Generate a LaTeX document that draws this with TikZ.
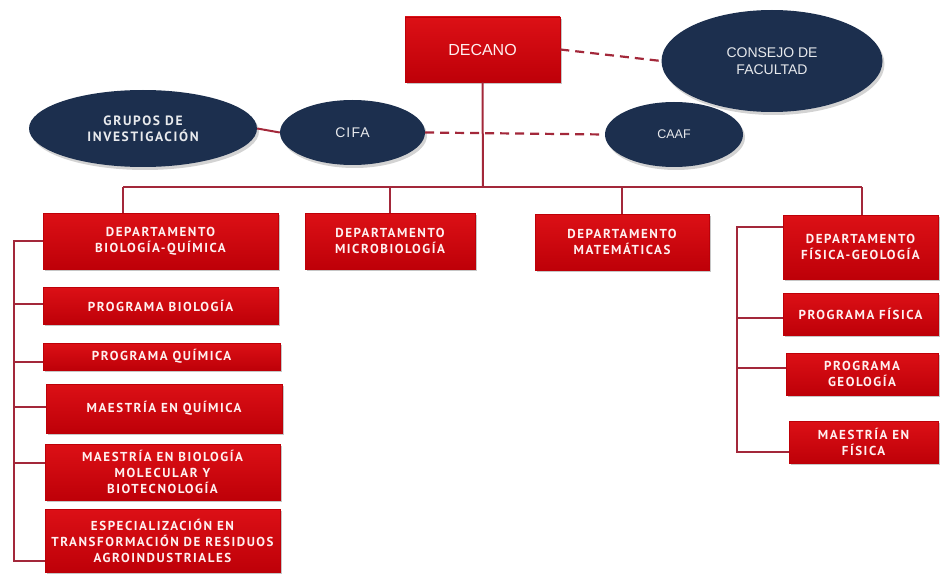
\documentclass[tikz,border=0pt]{standalone}
\usepackage{fontspec}
\setmainfont{Liberation Sans}
\newfontfamily\boxfont{PT Sans}[LetterSpace=12]
\newfontfamily\lightfont{Liberation Sans}
\newfontfamily\spacedfont{Liberation Sans}[LetterSpace=8]
\usetikzlibrary{shapes.geometric,shadows}
\definecolor{boxtop}{HTML}{DC1016}
\definecolor{boxbot}{HTML}{BE0008}
\definecolor{navy}{HTML}{1C2F4E}
\definecolor{linecol}{HTML}{A3283A}
\definecolor{txt}{HTML}{FFF0F0}
\tikzset{
  redbox/.style={rectangle, inner sep=1pt, top color=boxtop, bottom color=boxbot,
    draw=boxbot, line width=0.6pt, text=txt, align=center,
    font={\boxfont\bfseries\fontsize{13}{16}\selectfont},
    drop shadow={shadow xshift=2pt, shadow yshift=-2pt, opacity=0.45}},
  oval/.style={ellipse, inner sep=0pt, fill=navy, text=white!90!navy, align=center,
    drop shadow={shadow xshift=2pt, shadow yshift=-3pt, opacity=0.35}},
  conn/.style={draw=linecol, line width=2pt},
  dashconn/.style={draw=linecol, line width=2.2pt, dash pattern=on 9pt off 6pt}
}
\begin{document}
\begin{tikzpicture}[x=1pt,y=-1pt]
\useasboundingbox (0,0) rectangle (940,575);
% top level
\node[redbox, minimum width=155pt, minimum height=65pt,
  font={\lightfont\fontsize{16}{18}\selectfont}] (decano) at (482.5,49.5) {DECANO};
\node[oval, minimum width=221pt, minimum height=102pt,
  font={\lightfont\fontsize{14}{17}\selectfont}] (consejo) at (772,61) {CONSEJO DE\\FACULTAD};
\node[oval, minimum width=138pt, minimum height=65pt,
  font={\lightfont\fontsize{12.5}{14}\selectfont}] (caaf) at (674,134.5) {CAAF};
\node[oval, minimum width=228pt, minimum height=77pt,
  font={\boxfont\bfseries\fontsize{13.5}{16}\selectfont}] (grupos) at (143,128.5) {GRUPOS DE\\INVESTIGACIÓN};
\node[oval, minimum width=145pt, minimum height=65pt,
  font={\spacedfont\fontsize{14}{16}\selectfont}] (cifa) at (352.5,132.5) {CIFA};
% departments
\node[redbox, minimum width=235pt, minimum height=56pt] (dbq) at (160.5,241) {DEPARTAMENTO\\BIOLOGÍA-QUÍMICA};
\node[redbox, minimum width=170pt, minimum height=56pt] (dmic) at (390,241) {DEPARTAMENTO\\MICROBIOLOGÍA};
\node[redbox, minimum width=174pt, minimum height=56pt] (dmat) at (622,242) {DEPARTAMENTO\\MATEMÁTICAS};
\node[redbox, minimum width=155pt, minimum height=64pt] (dfg) at (860.5,247) {DEPARTAMENTO\\FÍSICA-GEOLOGÍA};
% left column
\node[redbox, minimum width=235pt, minimum height=37pt] (pbio) at (160.5,305.5) {PROGRAMA BIOLOGÍA};
\node[redbox, minimum width=237pt, minimum height=27pt] (pqui) at (161.5,356.5) {PROGRAMA QUÍMICA};
\node[redbox, minimum width=236pt, minimum height=49pt] (mqui) at (164,408.5) {MAESTRÍA EN QUÍMICA};
\node[redbox, minimum width=235pt, minimum height=56pt] (mbio) at (162.5,472) {MAESTRÍA EN BIOLOGÍA\\MOLECULAR Y\\BIOTECNOLOGÍA};
\node[redbox, minimum width=235pt, minimum height=63pt] (esp) at (162.5,540.5) {ESPECIALIZACIÓN EN\\TRANSFORMACIÓN DE RESIDUOS\\AGROINDUSTRIALES};
% right column
\node[redbox, minimum width=155pt, minimum height=42pt] (pfis) at (860.5,314) {PROGRAMA FÍSICA};
\node[redbox, minimum width=152pt, minimum height=42pt] (pgeo) at (862,374) {PROGRAMA\\GEOLOGÍA};
\node[redbox, minimum width=149pt, minimum height=42pt] (mfis) at (863.5,442) {MAESTRÍA EN\\FÍSICA};
% bar coordinates
\coordinate (bar) at (483,187);
\coordinate (bl) at (123,187);
\coordinate (br) at (862,187);
\coordinate (lsp) at (14,0);
\coordinate (rsp) at (737,0);
\coordinate (dbqL) at ([yshift=0pt]dbq.west);
\coordinate (pbioL) at ([yshift=2pt]pbio.west);
\coordinate (pquiL) at ([yshift=-5.5pt]pqui.west);
\coordinate (mquiL) at ([yshift=1.5pt]mqui.west);
\coordinate (mbioL) at ([yshift=9pt]mbio.west);
\coordinate (espL) at ([yshift=-20pt]esp.west);
\coordinate (dfgL) at ([yshift=20pt]dfg.west);
\coordinate (pfisL) at ([yshift=-4pt]pfis.west);
\coordinate (pgeoL) at ([yshift=6pt]pgeo.west);
\coordinate (mfisL) at ([yshift=-10pt]mfis.west);
% connectors
\draw[dashconn] (decano.east) -- (consejo.west);
\draw[dashconn] (cifa.east) -- (caaf.west);
\draw[conn] (grupos.east) -- (cifa.west);
\draw[conn] (decano.south) -- (bar);
\draw[conn] (bl) -- (br);
\draw[conn] (bl) -- (bl |- dbq.north);
\draw[conn] (dmic.north |- bar) -- (dmic.north);
\draw[conn] (dmat.north |- bar) -- (dmat.north);
\draw[conn] (br) -- (br |- dfg.north);
% left spine
\draw[conn] (dbqL) -- (dbqL -| lsp) -- (espL -| lsp) -- (espL);
\draw[conn] (pbioL) -- (pbioL -| lsp);
\draw[conn] (pquiL) -- (pquiL -| lsp);
\draw[conn] (mquiL) -- (mquiL -| lsp);
\draw[conn] (mbioL) -- (mbioL -| lsp);
% right spine
\draw[conn] (dfgL) -- (dfgL -| rsp) -- (mfisL -| rsp) -- (mfisL);
\draw[conn] (pfisL) -- (pfisL -| rsp);
\draw[conn] (pgeoL) -- (pgeoL -| rsp);
\end{tikzpicture}
\end{document}
